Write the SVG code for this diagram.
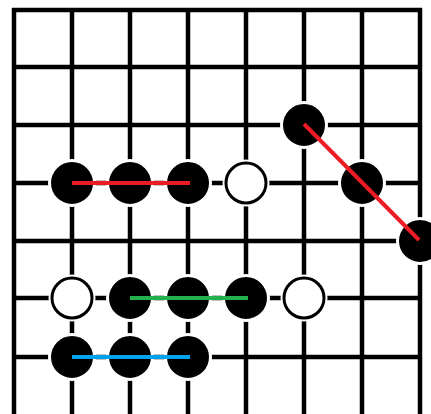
<svg xmlns="http://www.w3.org/2000/svg" width="431" height="414" viewBox="0 0 431 414">
<style>
.grid line{stroke:#000;stroke-width:4.5}
.b{fill:#000;stroke:#fff;stroke-width:3}
.halo{fill:#fff}
.w{fill:#fff;stroke:#000;stroke-width:3}
.e{stroke-width:4;fill:none}
</style>
<defs>
<g id="blk"><circle r="22.5" class="b"/></g>
<g id="wht"><circle r="23.5" class="halo"/><circle r="20" class="w"/></g>
</defs>
<rect width="431" height="414" fill="#fff"/>
<g class="grid">
<line x1="14" y1="8" x2="14" y2="414"/>
<line x1="72" y1="10" x2="72" y2="414"/>
<line x1="130" y1="10" x2="130" y2="414"/>
<line x1="188" y1="10" x2="188" y2="414"/>
<line x1="246" y1="10" x2="246" y2="414"/>
<line x1="304" y1="10" x2="304" y2="414"/>
<line x1="362" y1="10" x2="362" y2="414"/>
<line x1="420" y1="8" x2="420" y2="414"/>
<line x1="12" y1="10" x2="422" y2="10"/>
<line x1="14" y1="67" x2="420" y2="67"/>
<line x1="14" y1="125" x2="420" y2="125"/>
<line x1="14" y1="183" x2="420" y2="183"/>
<line x1="14" y1="241" x2="420" y2="241"/>
<line x1="14" y1="298" x2="420" y2="298"/>
<line x1="14" y1="357" x2="420" y2="357"/>
</g>
<g id="n1"><use href="#blk" x="72" y="183"/></g>
<g id="n2"><use href="#blk" x="130" y="183"/></g>
<g id="n3"><use href="#blk" x="188" y="183"/></g>
<g id="n4"><use href="#wht" x="246" y="183"/></g>
<g id="n5"><use href="#blk" x="304" y="125"/></g>
<g id="n6"><use href="#blk" x="362" y="183"/></g>
<g id="n7"><use href="#blk" x="420" y="241"/></g>
<g id="n8"><use href="#wht" x="72" y="298"/></g>
<g id="n9"><use href="#blk" x="130" y="298"/></g>
<g id="n10"><use href="#blk" x="188" y="298"/></g>
<g id="n11"><use href="#blk" x="246" y="298"/></g>
<g id="n12"><use href="#wht" x="304" y="298"/></g>
<g id="n13"><use href="#blk" x="72" y="357"/></g>
<g id="n14"><use href="#blk" x="130" y="357"/></g>
<g id="n15"><use href="#blk" x="188" y="357"/></g>
<g id="connectors">
<line class="e" x1="72" y1="183" x2="190" y2="183" stroke="#ed1c24"/>
<line class="e" x1="304" y1="124" x2="419" y2="240" stroke="#ed1c24"/>
<line class="e" x1="130" y1="298" x2="248" y2="298" stroke="#22b14c"/>
<line class="e" x1="72" y1="357" x2="190" y2="357" stroke="#00a2e8"/>
</g>
</svg>
